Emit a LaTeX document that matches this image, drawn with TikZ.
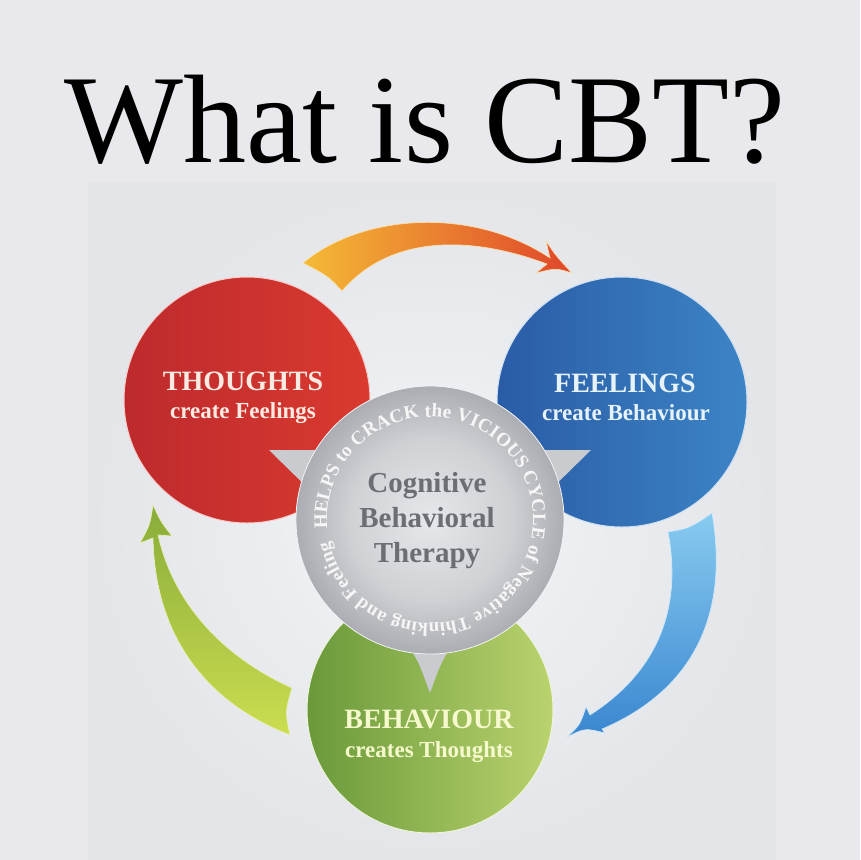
\documentclass[tikz,border=0pt]{standalone}
\usepackage{fontspec}
\setmainfont{Liberation Serif}
\usetikzlibrary{decorations.text}
\definecolor{bgc}{HTML}{E9E9ED}
\definecolor{panelin}{HTML}{F2F5F8}
\definecolor{panelout}{HTML}{E3E5E9}
\definecolor{orA}{HTML}{F4BA36}
\definecolor{orB}{HTML}{EE9830}
\definecolor{orC}{HTML}{E0462A}
\definecolor{blA}{HTML}{88CBF0}
\definecolor{blB}{HTML}{3A86D0}
\definecolor{grA}{HTML}{88AC3A}
\definecolor{grB}{HTML}{CCDD50}
\definecolor{rdL}{HTML}{BD2A2D}
\definecolor{rdR}{HTML}{DA3A2F}
\definecolor{buL}{HTML}{2A5CA6}
\definecolor{buR}{HTML}{3C84C6}
\definecolor{gnL}{HTML}{6A993A}
\definecolor{gnR}{HTML}{BAD36E}
\definecolor{gA}{HTML}{E6E7EA}
\definecolor{gM}{HTML}{D0D1D5}
\definecolor{gB}{HTML}{ABADB2}
\definecolor{tailc}{HTML}{CACBCF}
\definecolor{gT}{HTML}{6C6E74}
\definecolor{ringT}{HTML}{F6F6F7}
\definecolor{rdT}{HTML}{FBEAE2}
\definecolor{buT}{HTML}{E6F3FA}
\definecolor{gnT}{HTML}{F5F9CC}
\pgfdeclareradialshading{grayball}{\pgfpoint{0bp}{0bp}}{color(0bp)=(gA); color(15bp)=(gM); color(25bp)=(gB); color(50bp)=(gB)}
\tikzset{
  head/.style={anchor=base, font=\bfseries\fontsize{28}{28}\selectfont},
  sub/.style={anchor=base, font=\bfseries\fontsize{23}{23}\selectfont},
  ctr/.style={anchor=base, font=\bfseries\fontsize{29}{29}\selectfont, text=gT},
  rim/.style={line width=1pt}
}
\begin{document}
\begin{tikzpicture}[x=1pt,y=-1pt]
\useasboundingbox (0,0) rectangle (860,860);
\fill[bgc] (0,0) rectangle (860,860);
\shade[inner color=panelin, outer color=panelout] (88,182) rectangle (776,860);

% title
\node[anchor=base, font=\fontsize{126}{126}\selectfont, text=black] (title) at (425,162) {What is CBT?};

% arrows
\shade[left color=orA, middle color=orB, right color=orC, draw=orA!40!white, line width=0.6pt]
  (303,263) .. controls (360,215) and (470,205) .. (550,258)
  -- (546,241) .. controls (556,256) .. (572,273)
  .. controls (556,268) .. (536,273) -- (547,264)
  .. controls (470,235) and (390,235) .. (342,291)
  .. controls (328,276) .. (303,263) -- cycle;
\shade[top color=blA, bottom color=blB, draw=blA!40!white, line width=0.6pt]
  (668,532) .. controls (680,595) and (668,665) .. (590,715)
  -- (586,707) .. controls (580,725) .. (567,737)
  .. controls (585,728) .. (605,733) -- (602,729)
  .. controls (705,685) and (727,600) .. (712,513)
  .. controls (690,528) .. (668,532) -- cycle;
\shade[top color=grA, bottom color=grB, draw=grB!40!white, line width=0.6pt]
  (292,688) .. controls (230,660) and (175,610) .. (158,535)
  -- (172,536) .. controls (161,522) .. (153,505)
  .. controls (150,525) .. (140,543) -- (153,538)
  .. controls (155,630) and (200,700) .. (290,735)
  .. controls (285,712) .. (292,688) -- cycle;

% circles
\shade[left color=rdL, right color=rdR, draw=rdR!25!white, rim] (247,400) circle (123);
\shade[left color=buL, right color=buR, draw=buR!25!white, rim] (622,402) circle (125);
\shade[left color=gnL, right color=gnR, draw=gnR!25!white, rim] (430,710) circle (123);

% grey centre with tails
\fill[tailc] (269,450) -- (360,450) -- (320,500) -- cycle;
\fill[tailc] (591,450) -- (500,450) -- (540,500) -- cycle;
\fill[tailc] (404,640) .. controls (418,660) .. (430,693) .. controls (442,660) .. (456,640) -- cycle;
\shade[shading=grayball, draw=white!85!gB, line width=0.8pt] (430,520) circle (134);

\path[decoration={text along path,
   text={|\bfseries\fontsize{19}{19}\selectfont\color{ringT}|HELPS to CRACK the VICIOUS CYCLE of Negative Thinking and Feeling},
   text align={fit to path}}, decorate]
  (430,520) ++(-185:103) arc[start angle=-185, end angle=168, radius=103];

% texts
\node[head, text=rdT] (th) at (243,390) {THOUGHTS};
\node[sub, text=rdT] (thS) at (243,418) {create Feelings};
\node[head, text=buT] (fe) at (625,392) {FEELINGS};
\node[sub, text=buT] (feS) at (626,420) {create Behaviour};
\node[head, text=gnT] (be) at (429,728) {BEHAVIOUR};
\node[sub, text=gnT] (beS) at (429,757) {creates Thoughts};
\node[ctr] (c1) at (427,492) {Cognitive};
\node[ctr] (c2) at (427,527) {Behavioral};
\node[ctr] (c3) at (427,562) {Therapy};
\end{tikzpicture}
\end{document}
